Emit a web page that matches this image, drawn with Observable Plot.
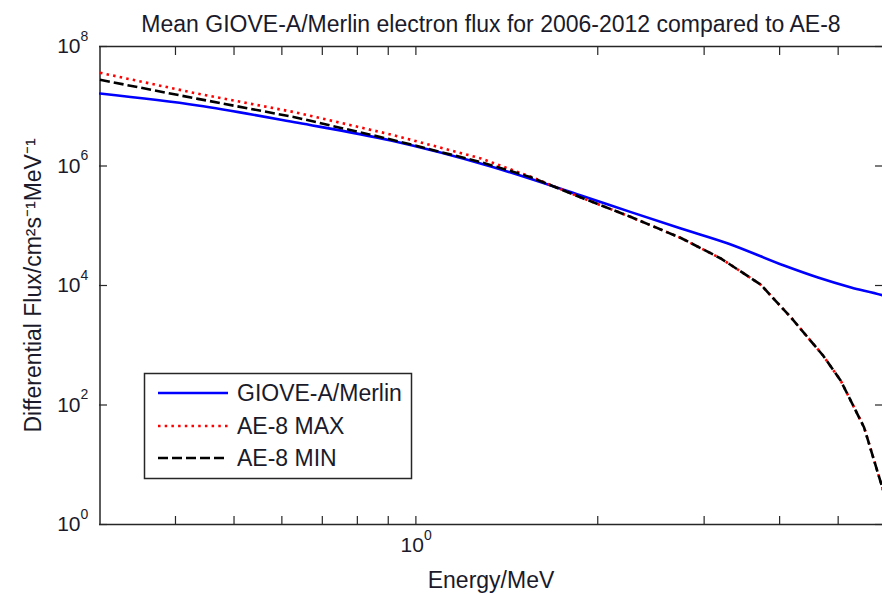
<!DOCTYPE html>
<html>
<head>
<meta charset="utf-8">
<script src="https://cdn.jsdelivr.net/npm/d3@7"></script>
<script src="https://cdn.jsdelivr.net/npm/@observablehq/plot@0.6"></script>
<style>
  html, body { margin: 0; padding: 0; background: #fff; }
  #chart { width: 882px; height: 594px; overflow: hidden; }
  svg { font-family: "Liberation Sans", Arial, sans-serif; }
</style>
</head>
<body>
<div id="chart"></div>
<script>
// ---- Data ----
const titleText = "Mean GIOVE-A/Merlin electron flux for 2006-2012 compared to AE-8";
const xLabelText = "Energy/MeV";
const yLabelText = "Differential Flux/cm\u00B2s\u207B\u00B9MeV\u207B\u00B9";

const seriesNames = ["GIOVE-A/Merlin", "AE-8 MAX", "AE-8 MIN"];

// GIOVE-A/Merlin mean spectrum
const gioveEnergy = [0.30, 0.4356, 0.6376, 0.9091, 1.331, 1.876, 2.270, 2.746, 3.286, 4.067, 4.630, 5.252, 5.932, 6.0];
const gioveFlux   = [1.63e7, 1.03e7, 5.28e6, 2.67e6, 9.82e5, 3.21e5, 1.69e5, 9.0e4, 5.05e4, 2.16e4, 1.36e4, 9.26e3, 6.81e3, 6.55e3];

// AE-8 spectra
const ae8Energy = [0.30, 0.4356, 0.630, 0.909, 1.281, 1.550, 1.876, 2.270, 2.746, 3.198, 3.72, 4.178, 4.72, 5.05, 5.52, 5.93, 6.0];
const ae8MaxFlux = [3.63e7, 1.62e7, 7.95e6, 3.37e6, 1.34e6, 6.60e5, 2.97e5, 1.40e5, 6.24e4, 2.83e4, 1.04e4, 2.91e3, 673, 255, 42, 3.85, 2.6];
const ae8MinFlux = [2.77e7, 1.33e7, 6.56e6, 2.78e6, 1.16e6, 6.50e5, 2.97e5, 1.40e5, 6.24e4, 2.83e4, 1.04e4, 2.91e3, 673, 255, 42, 3.85, 2.6];

// Axis ticks
const xTickValues = [0.4, 0.5, 0.6, 0.7, 0.8, 0.9, 1, 2, 3, 4, 5];
const xLabelValues = [1];
const xLabelExponents = ["0"];
const yTickValues = [1, 1e2, 1e4, 1e6, 1e8];
const yTickExponents = ["0", "2", "4", "6", "8"];

// ---- Build tables ----
const giove = gioveEnergy.map((e, i) => ({e, f: gioveFlux[i]}));
const aeMax = ae8Energy.map((e, i) => ({e, f: ae8MaxFlux[i]}));
const aeMin = ae8Energy.map((e, i) => ({e, f: ae8MinFlux[i]}));
const xLab = xLabelValues.map((v, i) => ({v, exp: xLabelExponents[i]}));
const yLab = yTickValues.map((v, i) => ({v, exp: yTickExponents[i]}));

const axisColor = "#262626";
const textColor = "#1a1a2a";
const FONT = "Liberation Sans, Arial, sans-serif";

const plot = Plot.plot({
  width: 882,
  height: 594,
  marginLeft: 99,
  marginRight: 0,
  marginTop: 46,
  marginBottom: 70,
  style: {fontFamily: FONT, background: "#fff", overflow: "hidden"},
  x: {type: "log", domain: [0.3, 6], range: [99.5, 885.5]},
  y: {type: "log", domain: [1, 1e8], range: [524, 46]},
  marks: [
    // axis ticks (inward, mirrored on all sides)
    Plot.axisX({anchor: "bottom", ticks: xTickValues, tickSize: -8, tickFormat: () => "", label: null, stroke: axisColor, strokeWidth: 1.2}),
    Plot.axisX({anchor: "top", ticks: xTickValues, tickSize: -8, tickFormat: () => "", label: null, stroke: axisColor, strokeWidth: 1.2}),
    Plot.axisY({anchor: "left", ticks: yTickValues, tickSize: -8, tickFormat: () => "", label: null, stroke: axisColor, strokeWidth: 1.2}),
    Plot.axisY({anchor: "right", ticks: yTickValues, tickSize: -8, tickFormat: () => "", label: null, stroke: axisColor, strokeWidth: 1.2}),
    // frame lines
    Plot.ruleX([0.3], {stroke: axisColor, strokeWidth: 1.5}),
    Plot.ruleY([1, 1e8], {stroke: axisColor, strokeWidth: 1.5}),
    // series
    Plot.line(giove, {x: "e", y: "f", stroke: "#0000ff", strokeWidth: 2.6, curve: "monotone-x", clip: true}),
    Plot.line(aeMax, {x: "e", y: "f", stroke: "#ff0000", strokeWidth: 2.6, strokeDasharray: "2.5,4.2", strokeLinecap: "butt", clip: true}),
    Plot.line(aeMin, {x: "e", y: "f", stroke: "#000000", strokeWidth: 2.6, strokeDasharray: "10,4", strokeLinecap: "butt", clip: true}),
    // y tick labels 10^n
    Plot.text(yLab, {frameAnchor: "left", y: "v", text: () => "10", textAnchor: "end", dx: -19, fontSize: 21, fill: textColor}),
    Plot.text(yLab, {frameAnchor: "left", y: "v", text: "exp", textAnchor: "start", dx: -19, dy: -10, fontSize: 14, fill: textColor}),
    // x tick labels 10^n
    Plot.text(xLab, {frameAnchor: "bottom", x: "v", text: () => "10", textAnchor: "end", dx: 8, dy: 27, fontSize: 21, fill: textColor}),
    Plot.text(xLab, {frameAnchor: "bottom", x: "v", text: "exp", textAnchor: "start", dx: 8, dy: 15, fontSize: 14, fill: textColor}),
    // title and axis labels
    Plot.text([titleText], {frameAnchor: "top", text: d => d, textAnchor: "middle", dy: -31, fontSize: 23, fill: textColor}),
    Plot.text([xLabelText], {frameAnchor: "bottom", text: d => d, textAnchor: "middle", dy: 63, fontSize: 23, fill: textColor}),
    Plot.text([yLabelText], {frameAnchor: "left", text: d => d, textAnchor: "middle", rotate: -90, dx: -66, fontSize: 23, fill: textColor})
  ]
});

// ---- Legend (drawn into the same SVG) ----
const svg = d3.select(plot);
const lg = svg.append("g").attr("class", "legend").attr("text-anchor", "start");
lg.append("rect").attr("x", 144.5).attr("y", 373.5).attr("width", 267).attr("height", 105)
  .attr("fill", "#fff").attr("stroke", axisColor).attr("stroke-width", 1.5);
const legendStyles = [
  {stroke: "#0000ff", dash: null},
  {stroke: "#ff0000", dash: "2.5,4.2"},
  {stroke: "#000000", dash: "10,4"}
];
const rowY = [393, 426, 458];
seriesNames.forEach((name, i) => {
  const ln = lg.append("line").attr("x1", 158).attr("x2", 228).attr("y1", rowY[i]).attr("y2", rowY[i])
    .attr("stroke", legendStyles[i].stroke).attr("stroke-width", 2.6);
  if (legendStyles[i].dash) ln.attr("stroke-dasharray", legendStyles[i].dash);
  lg.append("text").attr("x", 237).attr("y", rowY[i]).attr("dy", "0.35em")
    .attr("text-anchor", "start")
    .attr("font-size", 23).attr("font-family", FONT).attr("fill", textColor).text(name);
});

document.getElementById("chart").appendChild(plot);
</script>
</body>
</html>
